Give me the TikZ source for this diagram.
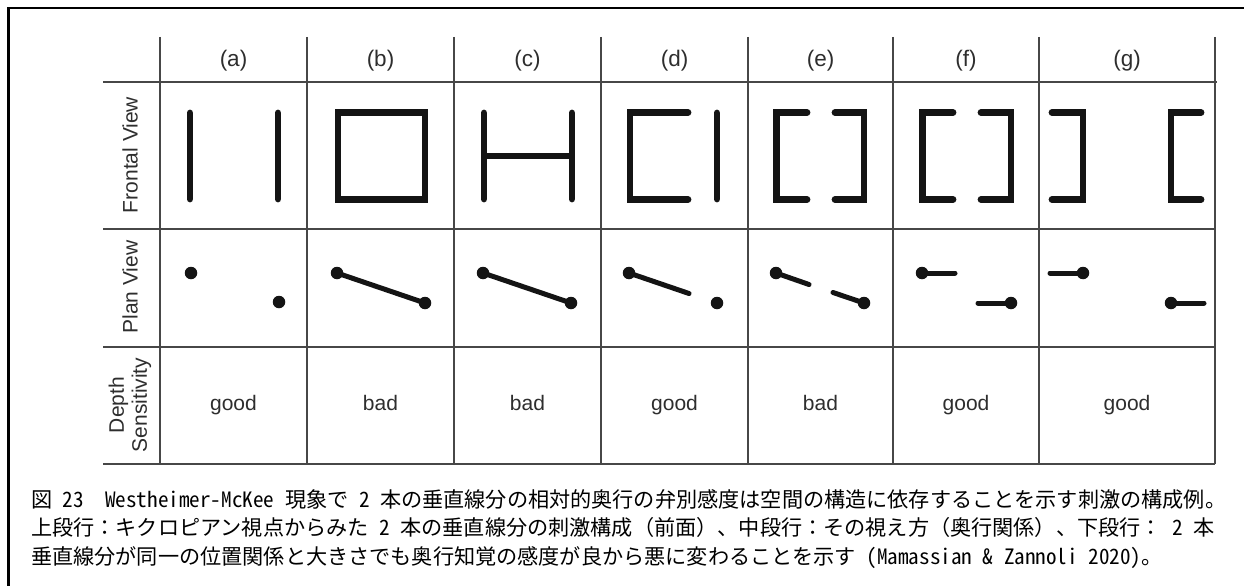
\documentclass[tikz,border=0pt]{standalone}
\usepackage{fontspec}
\setmainfont{Liberation Sans}
\newfontfamily\jpfont{Noto Sans CJK JP}
\newfontfamily\jphalf[RawFeature={+hwid}]{Noto Sans CJK JP}
\newcommand\hsp{\hspace*{0.5em}}
\newcommand\hw[1]{{\jphalf #1}}
\begin{document}
\begin{tikzpicture}[x=1pt,y=-1pt,
  gridline/.style={draw=black!72, line width=1.3pt},
  border/.style={draw=black, line width=2.4pt},
  fv/.style={draw=black!92, line width=6.8pt, line cap=round, line join=miter},
  fvbox/.style={draw=black!92, line width=6.8pt, line join=miter},
  pl/.style={draw=black!92, line width=5pt, line cap=round},
  dotn/.style={circle, fill=black!92, inner sep=0pt, minimum size=12.5pt},
  lab/.style={font=\fontsize{21}{23}\selectfont, text=black!82, inner sep=0pt},
  hlab/.style={font=\fontsize{22.5}{24}\selectfont, text=black!82, inner sep=0pt, anchor=base},
  captext/.style={font=\jpfont\fontsize{21.15}{24}\selectfont, anchor=base west, inner sep=0pt}]
\useasboundingbox (0,0) rectangle (1244,586);
\fill[white] (0,0) rectangle (1244,586);
% outer frame (top and left)
\coordinate (fc) at (8.5,8);
\coordinate (ftr) at (1244,8);
\coordinate (fbl) at (8.5,586);
\draw[border] (ftr) -- (fc) -- (fbl);
% table grid
\foreach \x in {160,307,454,601,748,893,1039,1215}{
  \draw[gridline] (\x,37) -- (\x,464);
}
\draw[gridline] (103,82) -- (1217,82);
\foreach \y in {229,347,464}{
  \draw[gridline] (103,\y) -- (1215,\y);
}
% column headers
\node[hlab] (ha) at (233.5,66.5) {(a)};
\node[hlab] (hb) at (380.5,66.5) {(b)};
\node[hlab] (hc) at (527.5,66.5) {(c)};
\node[hlab] (hd) at (674.5,66.5) {(d)};
\node[hlab] (he) at (820.5,66.5) {(e)};
\node[hlab] (hf) at (966,66.5) {(f)};
\node[hlab] (hg) at (1127,66.5) {(g)};
% row labels
\node[lab, rotate=90] (rfront) at (130,155) {Frontal View};
\node[lab, rotate=90] (rplan) at (130,287) {Plan View};
\node[lab, rotate=90, align=center] (rdepth) at (130,405) {Depth\\Sensitivity};
% depth sensitivity row
\node[lab, anchor=base] (da) at (233.5,410) {good};
\node[lab, anchor=base] (db) at (380.5,410) {bad};
\node[lab, anchor=base] (dc) at (527.5,410) {bad};
\node[lab, anchor=base] (dd) at (674.5,410) {good};
\node[lab, anchor=base] (de) at (820.5,410) {bad};
\node[lab, anchor=base] (df) at (966,410) {good};
\node[lab, anchor=base] (dg) at (1127,410) {good};
% frontal view
\draw[fv] (190,113) -- (190,199);
\draw[fv] (278,113) -- (278,199);
\draw[fvbox] (338,112.5) rectangle (425,199.5);
\draw[fv] (484,113) -- (484,199);
\draw[fv] (572,113) -- (572,199);
\draw[fvbox] (484,156) -- (572,156);
\draw[fv] (688,112.5) -- (630,112.5) -- (630,199.5) -- (688,199.5);
\draw[fv] (717,113) -- (717,199);
\draw[fv] (807,112.5) -- (776.5,112.5) -- (776.5,199.5) -- (807,199.5);
\draw[fv] (835,112.5) -- (864,112.5) -- (864,199.5) -- (835,199.5);
\draw[fv] (953,112.5) -- (922.5,112.5) -- (922.5,199.5) -- (953,199.5);
\draw[fv] (981,112.5) -- (1011,112.5) -- (1011,199.5) -- (981,199.5);
\draw[fv] (1052,112.5) -- (1083,112.5) -- (1083,199.5) -- (1052,199.5);
\draw[fv] (1201,112.5) -- (1171,112.5) -- (1171,199.5) -- (1201,199.5);
% plan view
\node[dotn] (pa1) at (191,273) {};
\node[dotn] (pa2) at (279,302) {};
\node[dotn] (pb1) at (337,273) {};
\node[dotn] (pb2) at (425,303) {};
\draw[pl] (pb1.center) -- (pb2.center);
\node[dotn] (pc1) at (483,273) {};
\node[dotn] (pc2) at (571,303) {};
\draw[pl] (pc1.center) -- (pc2.center);
\node[dotn] (pd1) at (629,273) {};
\coordinate (pd1e) at (689,293.5);
\draw[pl] (pd1.center) -- (pd1e);
\node[dotn] (pd2) at (717,303) {};
\node[dotn] (pe1) at (776,273) {};
\coordinate (pe1e) at (809,284.5);
\draw[pl] (pe1.center) -- (pe1e);
\coordinate (pe2s) at (833,292.5);
\node[dotn] (pe2) at (864,303) {};
\draw[pl] (pe2s) -- (pe2.center);
\node[dotn] (pf1) at (922,273) {};
\coordinate (pf1e) at (955,273);
\draw[pl] (pf1.center) -- (pf1e);
\coordinate (pf2s) at (978,303);
\node[dotn] (pf2) at (1011,303) {};
\draw[pl] (pf2s) -- (pf2.center);
\coordinate (pg1s) at (1050,273);
\node[dotn] (pg1) at (1083,273) {};
\draw[pl] (pg1s) -- (pg1.center);
\node[dotn] (pg2) at (1171,303) {};
\coordinate (pg2e) at (1204,303);
\draw[pl] (pg2.center) -- (pg2e);
% caption
\node[captext] (cap1) at (31,507) {図\hsp\hw{23}\hsp\hsp\hw{Westheimer-McKee}\hsp 現象で\hsp\hw{2}\hsp 本の垂直線分の相対的奥行の弁別感度は空間の構造に依存することを示す刺激の構成例。};
\node[captext] (cap2) at (31,535.5) {上段行：キクロピアン視点からみた\hsp\hw{2}\hsp 本の垂直線分の刺激構成（前面）、中段行：その視え方（奥行関係）、下段行：\hsp\hw{2}\hsp 本};
\node[captext] (cap3) at (31,564) {垂直線分が同一の位置関係と大きさでも奥行知覚の感度が良から悪に変わることを示す\hsp\hw{(Mamassian}\hsp\hw{\&}\hsp\hw{Zannoli}\hsp\hw{2020)}。};
\end{tikzpicture}
\end{document}
